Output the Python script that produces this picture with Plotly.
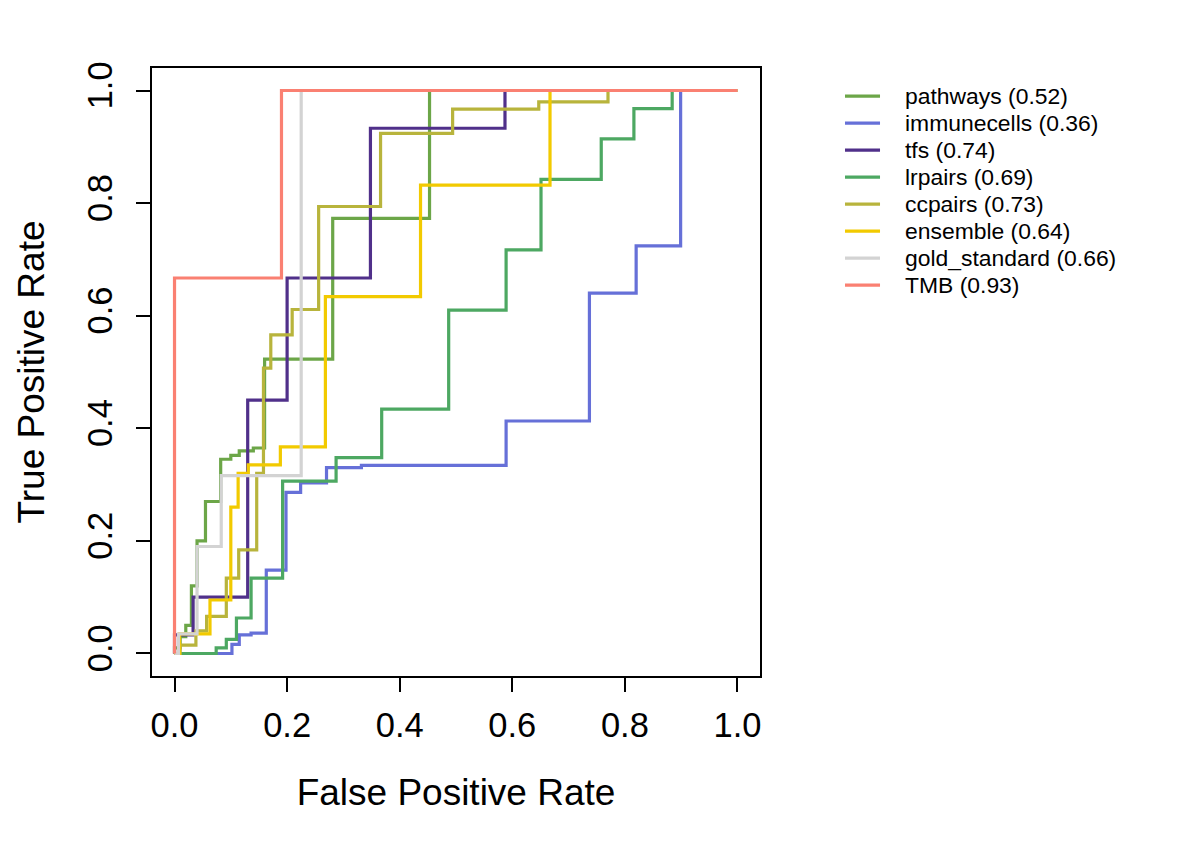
import plotly.graph_objects as go

# ROC vertices (FPR, TPR)
pathways_fpr = [0, 0, 0.01, 0.01, 0.02, 0.02, 0.03, 0.03, 0.04, 0.04, 0.055, 0.055, 0.082, 0.082, 0.10, 0.10, 0.115, 0.115, 0.14, 0.14, 0.16, 0.16, 0.281, 0.281, 0.453, 0.453, 1]
pathways_tpr = [0, 0.01, 0.01, 0.03, 0.03, 0.05, 0.05, 0.12, 0.12, 0.20, 0.20, 0.27, 0.27, 0.345, 0.345, 0.352, 0.352, 0.36, 0.36, 0.365, 0.365, 0.523, 0.523, 0.773, 0.773, 1, 1]

immune_fpr = [0, 0.102, 0.102, 0.115, 0.115, 0.136, 0.136, 0.163, 0.163, 0.198, 0.198, 0.224, 0.224, 0.27, 0.27, 0.332, 0.332, 0.589, 0.589, 0.737, 0.737, 0.82, 0.82, 0.899, 0.899, 1]
immune_tpr = [0, 0, 0.016, 0.016, 0.033, 0.033, 0.036, 0.036, 0.148, 0.148, 0.286, 0.286, 0.303, 0.303, 0.33, 0.33, 0.334, 0.334, 0.413, 0.413, 0.64, 0.64, 0.724, 0.724, 1, 1]

tfs_fpr = [0, 0, 0.033, 0.033, 0.13, 0.13, 0.20, 0.20, 0.348, 0.348, 0.587, 0.587, 1]
tfs_tpr = [0, 0.033, 0.033, 0.10, 0.10, 0.45, 0.45, 0.667, 0.667, 0.933, 0.933, 1, 1]

lrpairs_fpr = [0, 0.074, 0.074, 0.092, 0.092, 0.11, 0.11, 0.136, 0.136, 0.192, 0.192, 0.287, 0.287, 0.368, 0.368, 0.487, 0.487, 0.589, 0.589, 0.651, 0.651, 0.758, 0.758, 0.816, 0.816, 0.884, 0.884, 1]
lrpairs_tpr = [0, 0, 0.01, 0.01, 0.025, 0.025, 0.063, 0.063, 0.134, 0.134, 0.306, 0.306, 0.348, 0.348, 0.434, 0.434, 0.61, 0.61, 0.717, 0.717, 0.842, 0.842, 0.914, 0.914, 0.968, 0.968, 1, 1]

ccpairs_fpr = [0, 0.01, 0.01, 0.038, 0.038, 0.057, 0.057, 0.092, 0.092, 0.114, 0.114, 0.146, 0.146, 0.158, 0.158, 0.171, 0.171, 0.209, 0.209, 0.256, 0.256, 0.366, 0.366, 0.494, 0.494, 0.647, 0.647, 0.77, 0.77, 1]
ccpairs_tpr = [0, 0, 0.015, 0.015, 0.04, 0.04, 0.066, 0.066, 0.134, 0.134, 0.184, 0.184, 0.32, 0.32, 0.507, 0.507, 0.566, 0.566, 0.611, 0.611, 0.794, 0.794, 0.924, 0.924, 0.967, 0.967, 0.98, 0.98, 1, 1]

ensemble_fpr = [0, 0.009, 0.009, 0.063, 0.063, 0.10, 0.10, 0.113, 0.113, 0.131, 0.131, 0.188, 0.188, 0.268, 0.268, 0.437, 0.437, 0.667, 0.667, 1]
ensemble_tpr = [0, 0, 0.035, 0.035, 0.095, 0.095, 0.26, 0.26, 0.32, 0.32, 0.335, 0.335, 0.367, 0.367, 0.634, 0.634, 0.832, 0.832, 1, 1]

gold_fpr = [0, 0.007, 0.007, 0.04, 0.04, 0.083, 0.083, 0.225, 0.225, 1]
gold_tpr = [0, 0, 0.035, 0.035, 0.19, 0.19, 0.316, 0.316, 1, 1]

tmb_fpr = [0, 0, 0.19, 0.19, 1]
tmb_tpr = [0, 0.667, 0.667, 1, 1]

names = ["pathways (0.52)", "immunecells (0.36)", "tfs (0.74)", "lrpairs (0.69)",
         "ccpairs (0.73)", "ensemble (0.64)", "gold_standard (0.66)", "TMB (0.93)"]
colors = ["#6CA648", "#6670D8", "#50308A", "#4DA862", "#B8B43C", "#F2CA00", "#D3D3D3", "#FA8072"]
xs = [pathways_fpr, immune_fpr, tfs_fpr, lrpairs_fpr, ccpairs_fpr, ensemble_fpr, gold_fpr, tmb_fpr]
ys = [pathways_tpr, immune_tpr, tfs_tpr, lrpairs_tpr, ccpairs_tpr, ensemble_tpr, gold_tpr, tmb_tpr]

tick_vals = [0, 0.2, 0.4, 0.6, 0.8, 1.0]
tick_text = ["0.0", "0.2", "0.4", "0.6", "0.8", "1.0"]

FONT = "Liberation Sans, Arial, sans-serif"

fig = go.Figure()
for n, c, x, y in zip(names, colors, xs, ys):
    fig.add_trace(go.Scatter(x=x, y=y, mode="lines", name=n, showlegend=False,
                             line=dict(color=c, width=3.2)))

# Legend drawn beside the plot (R-style): line key + label per series
LEG_X0, LEG_X1, LEG_TX = 1.1398, 1.1974, 1.2352
LEG_Y0, LEG_DY = 0.9539, 27 / 608
for i, (n, c) in enumerate(zip(names, colors)):
    yy = LEG_Y0 - i * LEG_DY
    fig.add_shape(type="line", xref="paper", yref="paper",
                  x0=LEG_X0, x1=LEG_X1, y0=yy, y1=yy,
                  line=dict(color=c, width=3.2))
    fig.add_annotation(xref="paper", yref="paper", x=LEG_TX, y=yy,
                       xanchor="left", yanchor="middle", text=n, showarrow=False,
                       font=dict(family=FONT, size=22.9, color="black"))

axis_common = dict(
    range=[-0.04, 1.04], tickvals=tick_vals, ticktext=tick_text,
    ticks="outside", ticklen=14, tickwidth=1.5, tickcolor="black",
    showline=True, mirror=True, linecolor="black", linewidth=1.5,
    showgrid=False, zeroline=False,
    tickfont=dict(family=FONT, size=34.5, color="black"),
)
fig.update_xaxes(**axis_common, ticklabelstandoff=4,
                 title=dict(text="False Positive Rate", standoff=36,
                            font=dict(family=FONT, size=37, color="black")))
fig.update_yaxes(**axis_common, tickangle=-90, ticklabelstandoff=10,
                 title=dict(text="True Positive Rate", standoff=26,
                            font=dict(family=FONT, size=37, color="black")))

fig.update_layout(
    width=1184, height=846,
    margin=dict(l=144, r=432, t=60, b=178, autoexpand=False),
    paper_bgcolor="white", plot_bgcolor="white",
    font=dict(family=FONT, color="black"),
    showlegend=False,
)

fig.write_html("out.html")
